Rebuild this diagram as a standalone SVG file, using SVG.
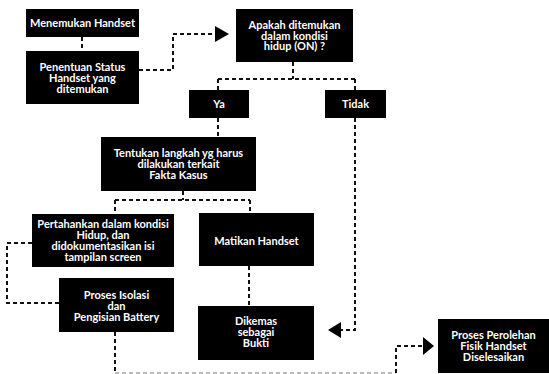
<svg xmlns="http://www.w3.org/2000/svg" width="549" height="374" viewBox="0 0 549 374">
<style>
.box{fill:#000}
.t{font-family:Lato,"Liberation Sans",sans-serif;font-weight:bold;font-size:11px;fill:#fff;text-anchor:middle}
.c{fill:none;stroke:#111;stroke-width:2;stroke-dasharray:4 3}
.f{fill:none;stroke:#bbb;stroke-width:2;stroke-dasharray:4 3}
.ah{fill:#000}
</style>
<rect width="549" height="374" fill="#fff"/>
<g id="connectors">
<path class="c" d="M82 37V51"/>
<path class="c" d="M139 70H173V34H216"/>
<polygon class="ah" points="215,26 229,34 215,42"/>
<path class="c" d="M293 62V79M218 79H355M218 79V90M355 79V90"/>
<path class="c" d="M218 118V137"/>
<path class="c" d="M183 191V200M115 200H250M115 200V214M250 200V213"/>
<path class="c" d="M249 266V306"/>
<path class="c" d="M355 118V330H341"/>
<polygon class="ah" points="341,322 328,330 341,338"/>
<path class="c" d="M32 243H7V303H59"/>
<path class="c" d="M115 332V372"/>
<path class="f" d="M115 373H396"/>
<path class="c" d="M396 373V346H423"/>
<polygon class="ah" points="423,337 434,346 423,355"/>
</g>
<g id="n1"><rect class="box" x="26" y="9" width="113" height="28"/><text class="t" x="82.5" y="27">Menemukan Handset</text></g>
<g id="n2"><rect class="box" x="26" y="51" width="113" height="53"/><text class="t" x="82.5" y="71">Penentuan Status<tspan x="82.5" dy="11">Handset yang</tspan><tspan x="82.5" dy="11">ditemukan</tspan></text></g>
<g id="n3"><rect class="box" x="236" y="9" width="117" height="53"/><text class="t" x="294.5" y="29">Apakah ditemukan<tspan x="294.5" dy="10.5">dalam kondisi</tspan><tspan x="294.5" dy="10.5">hidup (ON) ?</tspan></text></g>
<g id="ya"><rect class="box" x="189" y="90" width="60" height="28"/><text class="t" x="219" y="108">Ya</text></g>
<g id="tidak"><rect class="box" x="325" y="90" width="61" height="28"/><text class="t" x="355.5" y="108">Tidak</text></g>
<g id="n4"><rect class="box" x="101" y="137" width="155" height="54"/><text class="t" x="178.5" y="157">Tentukan langkah yg harus<tspan x="178.5" dy="11">dilakukan terkait</tspan><tspan x="178.5" dy="11">Fakta Kasus</tspan></text></g>
<g id="n5"><rect class="box" x="32" y="214" width="142" height="53"/><text class="t" x="103" y="228">Pertahankan dalam kondisi<tspan x="103" dy="11">Hidup, dan</tspan><tspan x="103" dy="11">didokumentasikan isi</tspan><tspan x="103" dy="11">tampilan screen</tspan></text></g>
<g id="n6"><rect class="box" x="199" y="213" width="115" height="53"/><text class="t" x="256.5" y="245">Matikan Handset</text></g>
<g id="n7"><rect class="box" x="59" y="278" width="115" height="54"/><text class="t" x="116.5" y="299">Proses Isolasi<tspan x="116.5" dy="11">dan</tspan><tspan x="116.5" dy="11">Pengisian Battery</tspan></text></g>
<g id="n8"><rect class="box" x="198" y="306" width="116" height="54"/><text class="t" x="256" y="325">Dikemas<tspan x="256" dy="11">sebagai</tspan><tspan x="256" dy="11">Bukti</tspan></text></g>
<g id="n9"><rect class="box" x="438" y="319" width="111" height="54"/><text class="t" x="493.5" y="339">Proses Perolehan<tspan x="493.5" dy="11">Fisik Handset</tspan><tspan x="493.5" dy="11">Diselesaikan</tspan></text></g>
</svg>
